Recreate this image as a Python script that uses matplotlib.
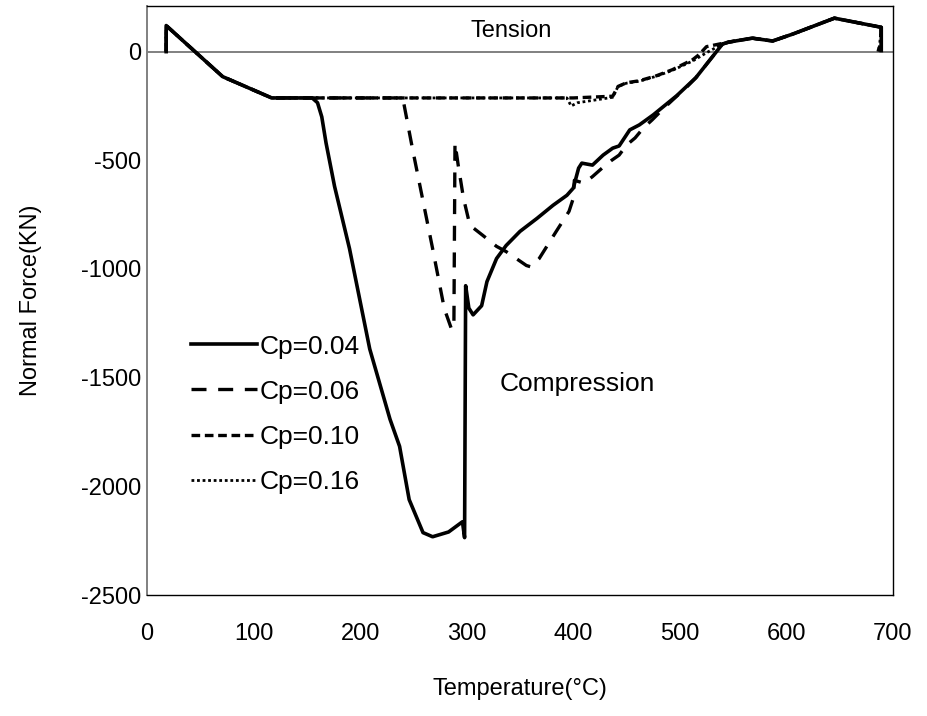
import matplotlib
matplotlib.use("Agg")
import matplotlib.pyplot as plt

plt.rcParams['font.family'] = ['Liberation Sans', 'DejaVu Sans']
plt.rcParams['axes.unicode_minus'] = False

# Normal force history of the column for four reinforcement ratios
temp_004 = [18, 18, 71, 117, 155, 160, 164, 168, 176, 190, 209, 228, 237, 246, 259, 268,
            283, 296, 298, 299, 302, 306, 314, 319, 328, 337, 350, 366, 381, 394, 400,
            405, 408, 418, 428, 437, 443, 453, 462, 475, 497, 515, 540, 546, 568, 587,
            606, 645, 689, 689]
force_004 = [0, 120, -115, -213, -213, -235, -300, -420, -620, -906, -1368, -1691, -1816,
             -2061, -2213, -2232, -2210, -2163, -2236, -1077, -1180, -1211, -1169, -1058,
             -952, -892, -827, -767, -707, -661, -628, -536, -513, -522, -476, -444, -434,
             -360, -337, -291, -203, -120, 35, 44, 62, 49, 81, 154, 112, 5]

temp_006 = [18, 18, 71, 117, 240, 249, 268, 279, 286, 288, 289, 292, 297, 303, 315, 328,
            337, 356, 360, 368, 384, 396, 400, 401, 410, 418, 427, 436, 443, 450, 458,
            466, 474, 485, 497, 506, 515, 540, 546, 568, 587, 606, 645, 689, 688, 686]
force_006 = [0, 120, -115, -213, -213, -444, -906, -1183, -1280, -1240, -420, -522, -675,
             -799, -845, -896, -920, -984, -990, -952, -827, -735, -675, -592, -605, -575,
             -536, -500, -476, -430, -397, -350, -314, -260, -205, -165, -120, 35, 44, 62,
             49, 81, 154, 112, 40, 0]

temp_010 = [18, 18, 71, 117, 400, 437, 442, 450, 462, 478, 493, 512, 518, 525, 534, 546,
            568, 587, 606, 645, 689, 689]
force_010 = [0, 120, -115, -213, -213, -205, -160, -143, -134, -111, -83, -37, -14, 23, 32,
             44, 62, 49, 81, 154, 112, 0]

temp_016 = [18, 18, 71, 117, 394, 398, 404, 437, 442, 450, 462, 478, 493, 512, 525, 540,
            546, 568, 587, 606, 645, 689, 687]
force_016 = [0, 120, -115, -213, -213, -250, -235, -210, -160, -145, -136, -113, -86,
             -43, -5, 35, 44, 62, 49, 81, 154, 112, 10]

labels = ['Cp=0.04', 'Cp=0.06', 'Cp=0.10', 'Cp=0.16']
x_ticks = [0, 100, 200, 300, 400, 500, 600, 700]
y_ticks = [-2500, -2000, -1500, -1000, -500, 0]

fig = plt.figure(figsize=(9.28, 7.16), dpi=100)
ax = fig.add_axes([147 / 928, 1 - 595 / 716, (893 - 147) / 928, (595 - 6) / 716])

ax.axhline(0, color='#808080', lw=1.4, zorder=1)

ax.plot(temp_004, force_004, color='black', lw=2.6, solid_joinstyle='round',
        label=labels[0], zorder=3)
ax.plot(temp_006, force_006, color='black', lw=2.4, dashes=(4.5, 3.5),
        label=labels[1], zorder=3)
ax.plot(temp_010, force_010, color='black', lw=2.4, dashes=(2.6, 1.4),
        label=labels[2], zorder=3)
ax.plot(temp_016, force_016, color='black', lw=2.0, dashes=(1.0, 1.0),
        label=labels[3], zorder=3)

ax.set_xlim(0, 700)
ax.set_ylim(-2500, 210)
ax.set_xticks(x_ticks)
ax.set_yticks(y_ticks)
ax.tick_params(length=0, labelsize=17)
ax.tick_params(axis='x', pad=20)
ax.tick_params(axis='y', pad=4)

for side in ['top', 'right', 'bottom']:
    ax.spines[side].set_color('black')
    ax.spines[side].set_linewidth(1.0)
ax.spines['left'].set_color('#808080')
ax.spines['left'].set_linewidth(1.4)

ax.set_xlabel('Temperature(°C)', fontsize=17, labelpad=24)
ax.set_ylabel('Normal Force(KN)', fontsize=17, labelpad=28)

ax.text(342, 97, 'Tension', fontsize=17, ha='center', va='center')
ax.text(331, -1530, 'Compression', fontsize=19, ha='left', va='center')

ax.legend(loc='upper left', bbox_to_anchor=(0.045, 0.46), frameon=False,
          fontsize=19, handlelength=2.5, handletextpad=0.1, labelspacing=0.8,
          borderaxespad=0)

fig.savefig('out.png', dpi=100)
